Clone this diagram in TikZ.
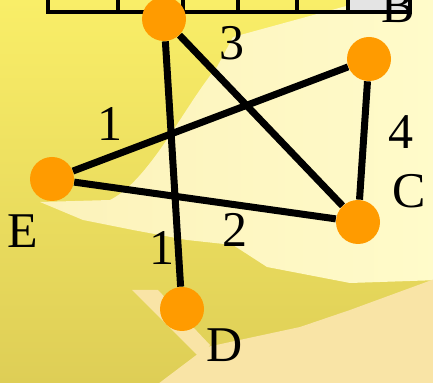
\documentclass[tikz,border=0pt]{standalone}
\usepackage{fontspec}
\setmainfont{Liberation Serif}

\definecolor{bgtop}{RGB}{249,238,104}
\definecolor{bgbot}{RGB}{222,206,86}
\definecolor{cream}{RGB}{252,242,186}
\definecolor{creamhi}{RGB}{255,251,202}
\definecolor{peach}{RGB}{249,228,166}
\definecolor{vorange}{RGB}{255,155,0}
\definecolor{cellgrey}{RGB}{228,228,228}

\tikzset{
	vertex/.style={circle, fill=vorange, minimum size=22pt, inner sep=0pt},
	edge/.style={line width=3.5pt},
	lbl/.style={font=\fontsize{25}{25}\selectfont, inner sep=0pt},
}

\begin{document}
\begin{tikzpicture}[x=0.5pt, y=-0.5pt]
		\useasboundingbox (0,0) rectangle (433,383);
		\clip (0,0) rectangle (433,383);
		
		% background
		\shade[top color=bgtop, bottom color=bgbot] (0,0) rectangle (433,383);
		\shade[left color=cream, right color=creamhi] (233,37) -- (350,5) -- (440,-5) -- (440,280) -- (350,283) -- (267,267) -- (233,245) -- (187,240) -- (133,230) -- (83,220) -- (40,202) -- (110,200) .. controls (150,180) and (185,105) .. (217,67) -- cycle;
		\fill[peach] (440,277) -- (350,310) -- (300,327) -- (207,347) -- (150,390) -- (440,390) -- cycle;
		\fill[peach] (132,290) -- (158,290) -- (210,345) -- (200,358) -- cycle;
		
		% table row
		\fill[cellgrey] (348,-20) rectangle (410,12);
		\draw[line width=2pt] (48,-20) rectangle (410,12);
		\foreach \x in {118,183,238,297,348}
			\draw[line width=2pt] (\x,-20) -- (\x,12);
		
		\node[vertex] (A) at (164,19) {};
		\node[vertex] (B) at (369,59) {};
		\node[vertex] (C) at (358,222) {};
		\node[vertex] (D) at (182,309) {};
		\node[vertex] (E) at (52,179) {};
		
		\draw[edge] (A) -- (D);
		\draw[edge] (A) -- (C);
		\draw[edge] (B) -- (E);
		\draw[edge] (B) -- (C);
		\draw[edge] (E) -- (C);
		
		\node[lbl] (wAC) at (232,43) {3};
		\node[lbl] (wBE) at (110,124) {1};
		\node[lbl] (wBC) at (401,132) {4};
		\node[lbl] (wEC) at (235,230) {2};
		\node[lbl] (wAD) at (162,248) {1};
		
		\node[lbl] (nB) at (398,6) {B};
		\node[lbl] (nC) at (409,191) {C};
		\node[lbl] (nD) at (225,345) {D};
		\node[lbl] (nE) at (23,231) {E};
	\end{tikzpicture}
\end{document}
